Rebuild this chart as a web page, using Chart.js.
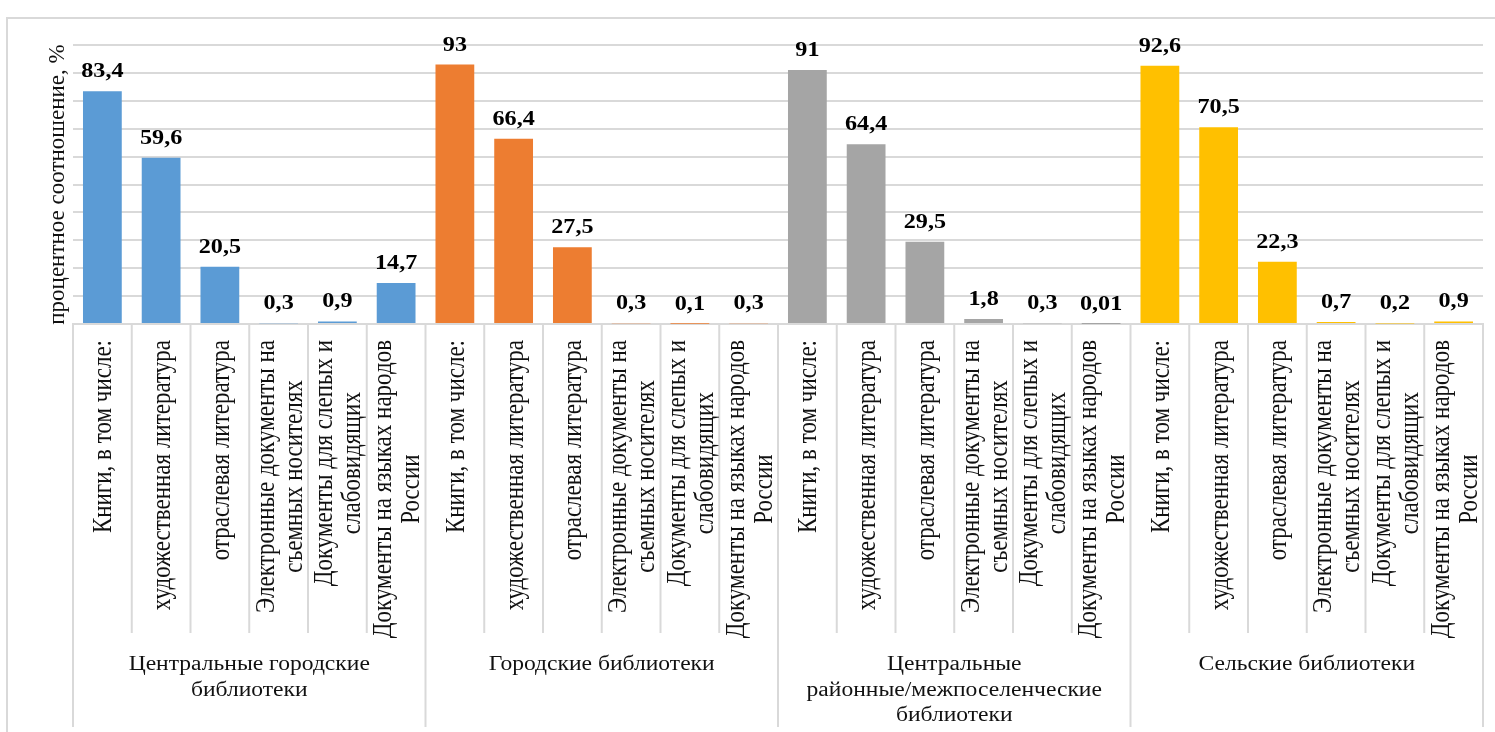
<!DOCTYPE html>
<html>
<head>
<meta charset="utf-8">
<script src="https://cdn.jsdelivr.net/npm/chart.js@4/dist/chart.umd.min.js"></script>
<style>
  body { margin: 0; background: #fff; }
  #wrap { width: 1495px; height: 732px; position: relative; }
</style>
</head>
<body>
<div id="wrap"><canvas id="chart"></canvas></div>
<script>
// sub-categories (x labels), one set per library group
const docTypes = [
  ["Книги, в том числе:"],
  ["художественная литература"],
  ["отраслевая литература"],
  ["Электронные документы на", "съемных носителях"],
  ["Документы для слепых и", "слабовидящих"],
  ["Документы на языках народов", "России"],
];

const groups = [
  ["Центральные городские", "библиотеки"],
  ["Городские библиотеки"],
  ["Центральные", "районные/межпоселенческие", "библиотеки"],
  ["Сельские библиотеки"],
];

const centralCity = [83.4, 59.6, 20.5, 0.3, 0.9, 14.7];
const cityLibs = [93, 66.4, 27.5, 0.3, 0.1, 0.3];
const districtLibs = [91, 64.4, 29.5, 1.8, 0.3, 0.01];
const ruralLibs = [92.6, 70.5, 22.3, 0.7, 0.2, 0.9];

const groupColors = ["#5B9BD5", "#ED7D31", "#A5A5A5", "#FFC000"];

const series = [centralCity, cityLibs, districtLibs, ruralLibs];
const values = series.flat();
const labels = series.flatMap((s, g) => docTypes.map((d) => d.join(" ")));
const colors = series.flatMap((s, g) => s.map(() => groupColors[g]));

const SX = 1.15; // the source picture is a bit wide
const SERIF = "'Liberation Serif', 'Times New Roman', serif";

function fmt(v) {
  return String(v).replace(".", ",");
}

const excelLabels = {
  id: "excelLabels",
  beforeDraw(chart) {
    const ctx = chart.ctx;
    ctx.save();
    ctx.strokeStyle = "#d9d9d9";
    ctx.lineWidth = 2;
    ctx.beginPath();
    ctx.moveTo(1500, 18);
    ctx.lineTo(7, 18);
    ctx.lineTo(7, 740);
    ctx.stroke();
    ctx.restore();
  },
  afterDatasetsDraw(chart) {
    const ctx = chart.ctx;
    const meta = chart.getDatasetMeta(0);
    ctx.save();
    ctx.fillStyle = "#000";
    ctx.font = "bold 21px " + SERIF;
    ctx.textAlign = "center";
    ctx.textBaseline = "alphabetic";
    meta.data.forEach((bar, i) => {
      ctx.save();
      ctx.translate(bar.x, bar.y - 14);
      ctx.scale(SX, 1);
      ctx.fillText(fmt(values[i]), 0, 0);
      ctx.restore();
    });
    ctx.restore();
  },
  afterDraw(chart) {
    const ctx = chart.ctx;
    const xs = chart.scales.x;
    const base = chart.chartArea.bottom;
    const half = (xs.getPixelForValue(1) - xs.getPixelForValue(0)) / 2;
    ctx.save();

    // separators between categories
    ctx.strokeStyle = "#d9d9d9";
    ctx.lineWidth = 2;
    for (let i = 0; i <= labels.length; i++) {
      const x = i < labels.length ? xs.getPixelForValue(i) - half : xs.getPixelForValue(i - 1) + half;
      ctx.beginPath();
      ctx.moveTo(x, base);
      ctx.lineTo(x, i % docTypes.length === 0 ? 727 : 633);
      ctx.stroke();
    }

    // rotated category labels
    ctx.fillStyle = "#111";
    ctx.font = "23px " + SERIF;
    ctx.textAlign = "center";
    ctx.textBaseline = "middle";
    labels.forEach((_, i) => {
      const lines = docTypes[i % docTypes.length];
      const cx = xs.getPixelForValue(i) + 2;
      const maxW = Math.max(...lines.map((l) => ctx.measureText(l).width));
      const cy = base + 16 + maxW / 2;
      lines.forEach((line, j) => {
        const x = cx + (j - (lines.length - 1) / 2) * 28;
        ctx.save();
        ctx.translate(x, cy);
        ctx.scale(SX, 1);
        ctx.rotate(-Math.PI / 2);
        ctx.fillText(line, 0, 0);
        ctx.restore();
      });
    });

    // group labels
    ctx.font = "20.5px " + SERIF;
    groups.forEach((lines, g) => {
      const first = g * docTypes.length;
      const last = first + docTypes.length - 1;
      const cx = (xs.getPixelForValue(first) + xs.getPixelForValue(last)) / 2;
      lines.forEach((line, k) => {
        ctx.save();
        ctx.translate(cx, 665 + k * 25.5);
        ctx.scale(SX, 1);
        ctx.fillText(line, 0, 0);
        ctx.restore();
      });
    });
    ctx.restore();
  },
};

new Chart(document.getElementById("chart"), {
  type: "bar",
  data: {
    labels: labels,
    datasets: [
      {
        data: values,
        backgroundColor: colors,
        borderWidth: 0,
        barPercentage: 0.66,
        categoryPercentage: 1,
      },
    ],
  },
  options: {
    responsive: true,
    maintainAspectRatio: false,
    animation: false,
    layout: { padding: { top: 45, right: 12, left: 0, bottom: 0 } },
    plugins: {
      legend: { display: false },
      tooltip: { enabled: false },
    },
    scales: {
      x: {
        ticks: { display: false },
        grid: { display: false },
        border: { display: true, color: "#d9d9d9", width: 2 },
        afterFit: (axis) => {
          axis.height = 732 - 324;
        },
      },
      y: {
        min: 0,
        max: 100,
        ticks: { display: false, stepSize: 10 },
        grid: { color: "#d9d9d9", lineWidth: 2, drawTicks: false },
        border: { display: false },
        title: {
          display: true,
          text: "процентное соотношение, %",
          color: "#111",
          font: { family: SERIF, size: 23 },
          padding: { top: 44, bottom: 0 },
          align: "center",
        },
        afterFit: (axis) => {
          axis.width = 73;
        },
      },
    },
  },
  plugins: [excelLabels],
});
</script>
</body>
</html>
